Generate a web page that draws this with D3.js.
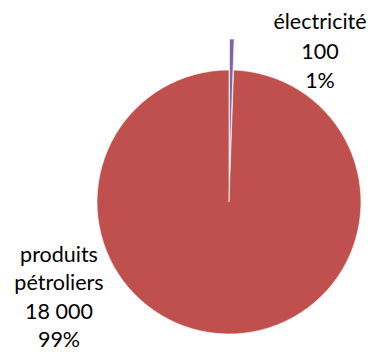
<!DOCTYPE html>
<html>
<head>
<meta charset="utf-8">
<script src="https://cdn.jsdelivr.net/npm/d3@7"></script>
<style>
  body { margin: 0; background: #fff; }
  text { font-family: Lato, "Open Sans", sans-serif; font-size: 21.5px; fill: #000; }
</style>
</head>
<body>
<script>
var outerWidth = 372, outerHeight = 352;

// data
var categories = ["électricité", "produits pétroliers"];
var values = [100, 18000];
var valueLabels = ["100", "18 000"];
var percentLabels = ["1%", "99%"];
var colors = ["#8064A2", "#C0504D"];

var cx = 229, cy = 202, radius = 132;
var explode = [31, 0];                       // électricité slice is pulled out

var svg = d3.select("body").append("svg")
  .attr("width", outerWidth)
  .attr("height", outerHeight);

var g = svg.append("g")
  .attr("transform", "translate(" + cx + "," + cy + ")");

var pie = d3.pie().sort(null).value(function (d) { return d; });
var arc = d3.arc().innerRadius(0).outerRadius(radius);

var slices = pie(values);

// draw the big slice first, then the exploded thin one on top
var order = [1, 0];
order.forEach(function (i) {
  var d = slices[i];
  var mid = (d.startAngle + d.endAngle) / 2;
  var dx = Math.sin(mid) * explode[i], dy = -Math.cos(mid) * explode[i];
  g.append("path")
    .attr("d", arc(d))
    .attr("transform", "translate(" + dx + "," + dy + ")")
    .style("fill", colors[i])
    .style("stroke", "#fff")
    .style("stroke-width", 0.6);
});

// labels (multi-line, centred)
var labelLines = [
  ["électricité", valueLabels[0], percentLabels[0]],
  ["produits", "pétroliers", valueLabels[1], percentLabels[1]]
];
var labelPos = [{ x: 320, y: 29, lh: 29.6 }, { x: 59, y: 262, lh: 28.3 }];

labelLines.forEach(function (lines, i) {
  var t = svg.append("text")
    .attr("text-anchor", "middle");
  lines.forEach(function (s, k) {
    t.append("tspan")
      .attr("x", labelPos[i].x)
      .attr("y", labelPos[i].y + k * labelPos[i].lh)
      .text(s);
  });
});
</script>
</body>
</html>
